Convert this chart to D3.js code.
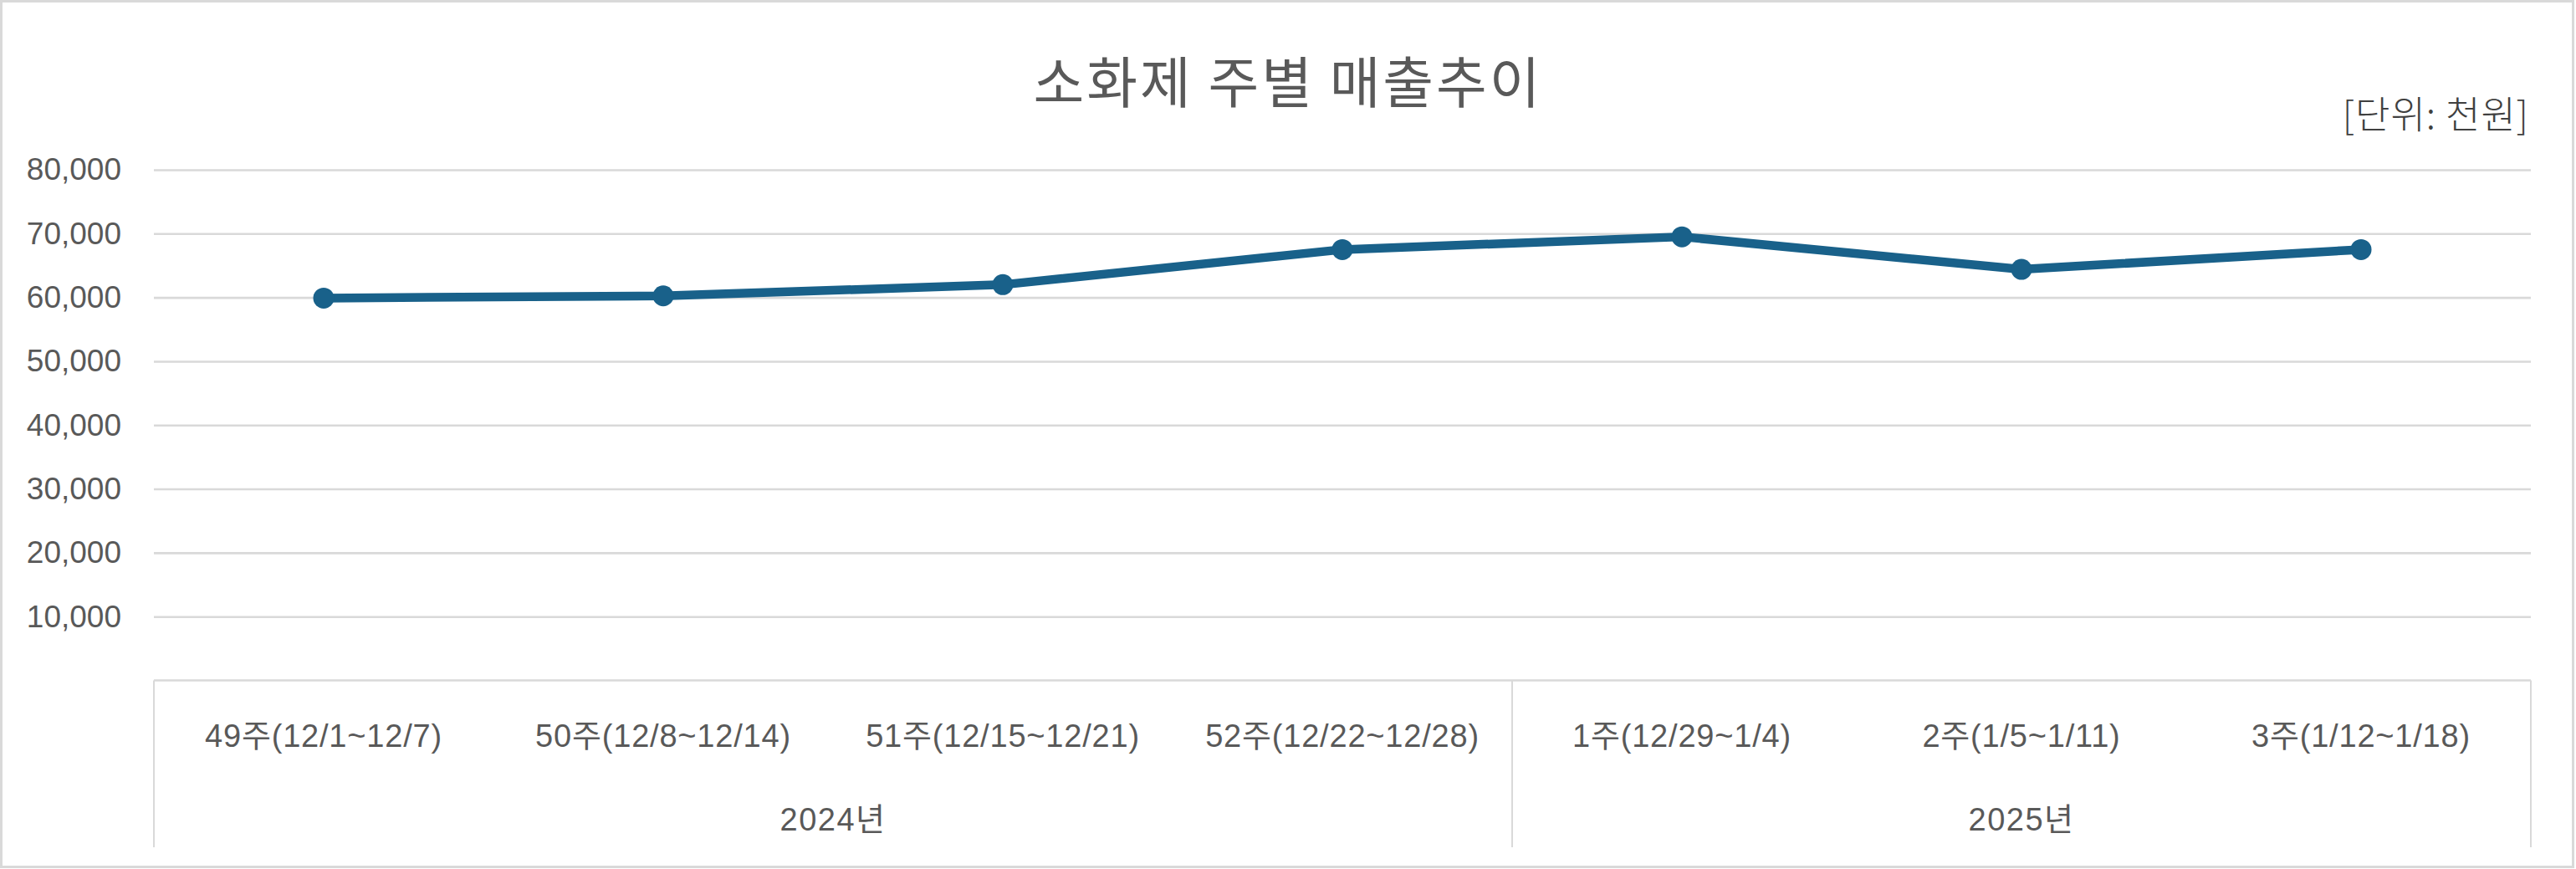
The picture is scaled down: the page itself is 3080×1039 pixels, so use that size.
<!DOCTYPE html>
<html>
<head>
<meta charset="utf-8">
<script src="https://cdn.jsdelivr.net/npm/d3@7"></script>
<style>
  html, body { margin: 0; padding: 0; background: #fff; }
  svg { display: block; }
  .lbl { font-family: "Liberation Sans", "Noto Sans CJK KR", sans-serif; fill: #595959; }
</style>
</head>
<body>
<svg></svg>
<script>
const width = 3080
const height = 1039

// data
const weeks = ["49주(12/1~12/7)", "50주(12/8~12/14)", "51주(12/15~12/21)", "52주(12/22~12/28)",
  "1주(12/29~1/4)", "2주(1/5~1/11)", "3주(1/12~1/18)"]
const years = ["2024년", "2025년"]
const weekYear = ["2024년", "2024년", "2024년", "2024년", "2025년", "2025년", "2025년"]
const sales = [59900, 60250, 62000, 67500, 69500, 64400, 67500]
const yTicks = [10000, 20000, 30000, 40000, 50000, 60000, 70000, 80000]

const title = "소화제 주별 매출추이"
const unitText = "[단위: 천원]"

const lineColor = "#19618a"
const gridColor = "#d9d9d9"

const svg = d3.select("svg")
  .attr("width", width)
  .attr("height", height)

// chart border
svg.append("rect")
  .attr("x", 1.5).attr("y", 1.5)
  .attr("width", 3075).attr("height", 1035)
  .attr("fill", "#fff")
  .attr("stroke", gridColor)
  .attr("stroke-width", 3)

const plotLeft = 184, plotRight = 3026, plotTop = 203, plotBottom = 813.5

var x = d3.scaleBand()
  .domain(weeks)
  .range([plotLeft, plotRight])
  .padding(0)

var y = d3.scaleLinear()
  .domain([0, 80000])
  .range([plotBottom, plotTop])

// gridlines + y labels
var yAxis = svg.append("g")
  .attr("transform", "translate(" + plotLeft + ",0)")
  .call(d3.axisLeft(y)
    .tickValues(yTicks)
    .tickSize(-(plotRight - plotLeft))
    .tickPadding(39)
    .tickFormat(d3.format(",")))

yAxis.select(".domain").remove()
yAxis.selectAll(".tick line")
  .attr("stroke", gridColor)
  .attr("stroke-width", 2.6)
yAxis.selectAll(".tick text")
  .attr("class", "lbl")
  .style("font-size", "37px")
  .attr("fill", "#595959")

// category axis line
svg.append("line")
  .attr("x1", plotLeft).attr("x2", plotRight)
  .attr("y1", y(0)).attr("y2", y(0))
  .attr("stroke", gridColor)
  .attr("stroke-width", 2.6)

// group boxes: vertical separators at group edges
var groups = years.map(function(yr) {
  var w = weeks.filter(function(d, i) { return weekYear[i] === yr })
  return { name: yr, x0: x(w[0]), x1: x(w[w.length - 1]) + x.bandwidth() }
})

var edges = [groups[0].x0].concat(groups.map(function(g) { return g.x1 }))
svg.selectAll(".sep")
  .data(edges)
  .enter().append("line")
    .attr("x1", function(d) { return d }).attr("x2", function(d) { return d })
    .attr("y1", y(0)).attr("y2", 1013)
    .attr("stroke", gridColor)
    .attr("stroke-width", 2)

// week labels
svg.selectAll(".wk")
  .data(weeks)
  .enter().append("text")
    .attr("class", "lbl")
    .attr("x", function(d) { return x(d) + x.bandwidth() / 2 })
    .attr("y", 893)
    .attr("text-anchor", "middle")
    .style("font-size", "38px")
    .style("letter-spacing", "0.8px")
    .text(function(d) { return d })

// year labels
svg.selectAll(".yr")
  .data(groups)
  .enter().append("text")
    .attr("class", "lbl")
    .attr("x", function(d) { return (d.x0 + d.x1) / 2 })
    .attr("y", 993)
    .attr("text-anchor", "middle")
    .style("font-size", "38px")
    .style("letter-spacing", "1.5px")
    .text(function(d) { return d.name })

// line
var line = d3.line()
  .x(function(d, i) { return x(weeks[i]) + x.bandwidth() / 2 })
  .y(function(d) { return y(d) })

svg.append("path")
  .datum(sales)
  .attr("d", line)
  .attr("fill", "none")
  .attr("stroke", lineColor)
  .attr("stroke-width", 10.5)
  .attr("stroke-linejoin", "round")

svg.selectAll(".pt")
  .data(sales)
  .enter().append("circle")
    .attr("cx", function(d, i) { return x(weeks[i]) + x.bandwidth() / 2 })
    .attr("cy", function(d) { return y(d) })
    .attr("r", 12.5)
    .attr("fill", lineColor)

// title
svg.append("text")
  .attr("x", 1540)
  .attr("y", 94)
  .attr("text-anchor", "middle")
  .attr("dominant-baseline", "central")
  .style("font-family", "'Noto Sans CJK KR', sans-serif")
  .style("font-size", "66px")
  .style("letter-spacing", "3px")
  .attr("fill", "#595959")
  .text(title)

// unit
svg.append("text")
  .attr("x", 3024)
  .attr("y", 134)
  .attr("text-anchor", "end")
  .attr("dominant-baseline", "central")
  .style("font-family", "'Noto Sans CJK KR', sans-serif")
  .style("font-size", "45px")
  .style("letter-spacing", "1px")
  .style("font-weight", 300)
  .attr("fill", "#404040")
  .text(unitText)
</script>
</body>
</html>
